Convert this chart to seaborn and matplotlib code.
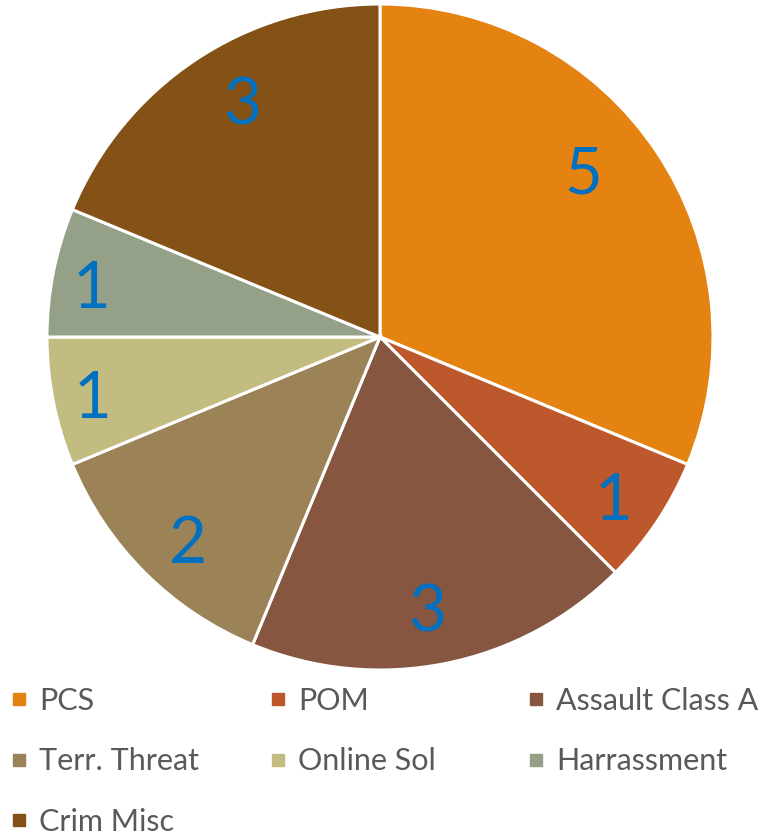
import numpy as np
import seaborn as sns
import matplotlib.pyplot as plt
from matplotlib.lines import Line2D

# offence categories and counts
categories = ['PCS', 'POM', 'Assault Class A', 'Terr. Threat', 'Online Sol',
              'Harrassment', 'Crim Misc']
counts = [5, 1, 3, 2, 1, 1, 3]
colors = ['#E48312', '#BD582C', '#865640', '#9B8357', '#C2BC80', '#94A088', '#845117']

# label placement (Excel "best fit" look): radial distance and angle nudge
label_dist = [0.79, 0.85, 0.83, 0.84, 0.88, 0.88, 0.82]
label_nudge = [5.5, -0.8, -1.5, 1.7, 0.3, 1.2, -3.3]

sns.set_theme(style='white')
plt.rcParams['font.family'] = ['Lato', 'DejaVu Sans']

fig = plt.figure(figsize=(7.69, 8.39), dpi=100)
ax = fig.add_axes([47 / 769, (839 - 337 - 333) / 839, 666 / 769, 666 / 839])

pal = sns.color_palette(colors)
wedges, texts, autotexts = ax.pie(
    counts, colors=pal, startangle=90, counterclock=False,
    autopct=lambda p: '%d' % round(p * sum(counts) / 100),
    pctdistance=0.84,
    wedgeprops=dict(edgecolor='white', linewidth=2.2),
    textprops=dict(color='#0070C0', fontsize=47))
for w, t, d, n in zip(wedges, autotexts, label_dist, label_nudge):
    a = np.deg2rad((w.theta1 + w.theta2) / 2 + n)
    t.set_position((d * np.cos(a), d * np.sin(a) - 0.012))
ax.set_xlim(-1, 1)
ax.set_ylim(-1, 1)
ax.set_aspect('equal')

# legend: three separate columns so they line up at equal spacing
handles = [Line2D([], [], marker='s', linestyle='', markersize=9, color=c) for c in colors]
col_x = [10 / 769, 269 / 769, 527 / 769]
for i, x in enumerate(col_x):
    idx = list(range(i, len(categories), 3))
    fig.legend([handles[j] for j in idx], [categories[j] for j in idx],
               loc='upper left', bbox_to_anchor=(x, 1 - 687 / 839),
               frameon=False, fontsize=22, labelcolor='#595959',
               handlelength=0.6, handletextpad=0.35, labelspacing=1.06,
               borderpad=0, borderaxespad=0)

fig.savefig('out.png', dpi=100)
